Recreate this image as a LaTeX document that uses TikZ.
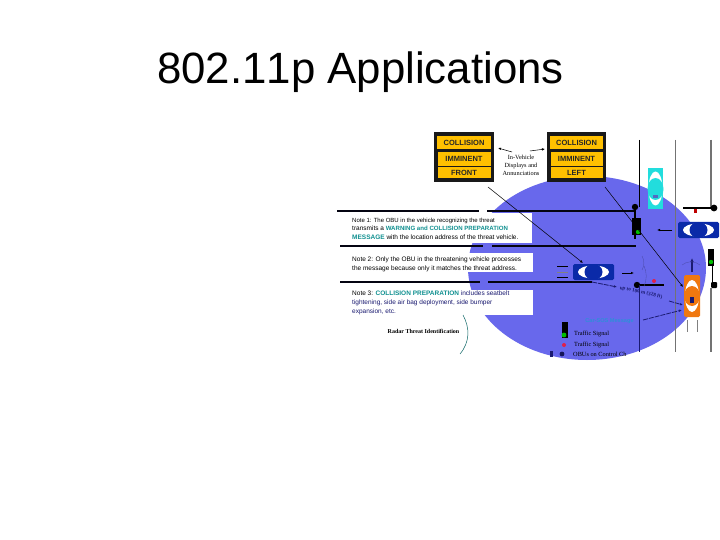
\documentclass[tikz,border=0pt]{standalone}
\usepackage{fontspec}
\setmainfont{Liberation Sans}
\newfontfamily\serifa{Liberation Serif}
\newfontfamily\titlefont[Kerning=Off]{Liberation Sans}
\usetikzlibrary{arrows.meta}
\definecolor{disc}{HTML}{6868EC}
\definecolor{amber}{HTML}{FFC000}
\definecolor{tealt}{HTML}{109090}
\definecolor{navyt}{HTML}{1A1A70}
\definecolor{carblue}{HTML}{0A2AA8}
\definecolor{carcyan}{HTML}{22DDDD}
\definecolor{carorange}{HTML}{F07810}
\definecolor{sosblue}{HTML}{2E8FD8}
\definecolor{dotred}{HTML}{E0204A}
\tikzset{
 rulea/.style={line width=1.6pt,black!85!navyt},
 road/.style={line width=1.6pt,black},
 thin road/.style={line width=.9pt,black},
 grey road/.style={line width=1.1pt,black!55},
 lead/.style={line width=.5pt,black,-{Latex[length=3pt,width=2.5pt]}},
 dashlead/.style={line width=.8pt,navyt,dash pattern=on 5pt off 1pt,-{Latex[length=3pt,width=2.5pt]}},
 notetext/.style={anchor=north west,inner sep=0pt,align=left,font=\fontsize{6.5}{8.7}\selectfont},
 signtext/.style={font=\bfseries\fontsize{7.5}{8}\selectfont,inner sep=0pt,text=black!85},
 smalls/.style={font=\serifa\fontsize{6.3}{8}\selectfont,inner sep=0pt,align=center},
}
\newcommand{\signbox}[5]{%
 \fill[black!90] (#1,132) rectangle ++(#2,50);
 \fill[amber] (#1+3,136) rectangle ++(#2-6,13);
 \fill[amber] (#1+3.5,152) rectangle ++(#2-7,14);
 \fill[amber] (#1+3.5,167) rectangle ++(#2-7,11);
 \node[signtext] at (#1+#2/2,143) {#3};
 \node[signtext] at (#1+#2/2,159) {#4};
 \node[signtext] at (#1+#2/2,172.5) {#5};
}
\begin{document}
\begin{tikzpicture}[x=1pt,y=-1pt]
\useasboundingbox (0,0) rectangle (720,540);
\fill[white] (0,0) rectangle (720,540);
\node[anchor=base west,inner sep=0pt,font=\titlefont\fontsize{43.8}{50}\selectfont] (title) at (157,83.5) {802.11p Applications};
% disc
\fill[disc] (587,268) ellipse [x radius=119,y radius=92];
% note panels
\fill[white] (352,213) rectangle (532,243);
\fill[white] (352,253) rectangle (533,272);
\fill[white] (352,290) rectangle (533,315);
\fill[white] (340,316) rectangle (470,360);
% signs
\signbox{434}{60}{COLLISION}{IMMINENT}{FRONT}
\signbox{547}{59}{COLLISION}{IMMINENT}{LEFT}
\node[smalls] (invehicle) at (521,165) {In-Vehicle\\Displays and\\Annunciations};
\coordinate (la) at (512,152);
\coordinate (ra) at (530,151);
\draw[lead] (la) -- (498,148);
\draw[lead] (ra) -- (545,149);
% note rules
\draw[rulea] (337,211) -- (479,211);
\draw[rulea] (487,211) -- (636,211);
\draw[rulea] (340,246) -- (483,246);
\draw[rulea] (492,246) -- (636,246);
\draw[rulea] (340,282) -- (480,282);
\draw[rulea] (488,282) -- (592,282);
% roads
\draw[thin road] (639,140) -- (639,207);
\draw[grey road] (675.5,140) -- (675.5,352);
\draw[grey road] (711,140) -- (711,207);
\draw[road] (683,208) -- (714,208);
\fill[black] (714,208) circle (3.4);
\fill[red!75!black] (694,209) rectangle (697,213);
\fill[black] (635,207) circle (3.2);
\draw[road] (635,207) -- (635,239);
\fill[black] (632,218) rectangle (641,235);
\fill[green!75!black] (638,232) circle (2.2);
\fill[black] (637,285) circle (3.2);
\draw[road] (637,285) -- (664,285);
\fill[dotred] (654,281) circle (2);
\draw[thin road,navyt] (639,285) -- (639,352);
\draw[grey road] (711,288) -- (711,352);
\fill[black,rounded corners=1pt] (711,282) rectangle (717,288);
\draw[thin road] (712,265) -- (712,283);
\fill[black] (708,249) rectangle (714,266);
\fill[green!75!black] (711,262) circle (2.2);
% cyan car
\fill[carcyan] (648,168) rectangle (663,209);
\fill[white] (655.5,188.5) ellipse [x radius=7,y radius=17];
\fill[carcyan] (655.5,189) ellipse [x radius=8,y radius=11];
\fill[carblue!70] (653,195) rectangle (658,198);
% right blue car
\fill[carblue,rounded corners=1.5pt] (678,222) rectangle (719,238);
\fill[white] (698.5,230) ellipse [x radius=15.5,y radius=6.5];
\fill[carblue] (698.5,230) ellipse [x radius=9,y radius=8];
\draw[line width=.6pt,-{Latex[length=3pt,width=2.5pt]}] (672,230) -- (657,230);
% middle blue car
\fill[carblue,rounded corners=1.5pt] (573,264) rectangle (614,280);
\fill[white] (593.5,272) ellipse [x radius=15.5,y radius=6.5];
\fill[carblue] (593.5,272) ellipse [x radius=9,y radius=8];
\draw[line width=.5pt,black] (557,266) -- (568,266) (557,277) -- (568,277);
\draw[line width=.5pt,black!50] (557,272) -- (568,272);
\draw[line width=.6pt,-{Latex[length=3pt,width=2.5pt]}] (622,273) -- (634,273);
% orange car
\fill[carorange,rounded corners=1.5pt] (684,275) rectangle (700,317);
\fill[white] (692,296) ellipse [x radius=7,y radius=16];
\fill[carorange] (692,296) ellipse [x radius=8,y radius=10];
\fill[navyt] (689.5,297) rectangle (694,303);
\draw[line width=.6pt,black!50] (687.5,320) -- (687.5,332) (697,320) -- (697,332);
\draw[line width=1.4pt,navyt,-{Latex[length=4pt,width=3.5pt]}] (692,272) -- (692,258);
% wave arcs
\draw[line width=.3pt,disc!70!black] (642,256) arc (-30:30:14) ;
\draw[line width=.3pt,disc!70!black] (644,266) arc (-25:25:24) ;
\draw[line width=.3pt,disc!70!black] (682,265) arc (-130:-50:14) ;
% leaders
\draw[lead] (488,187) -- (583,263);
\draw[lead] (605,187) -- (683,287);
\draw[dashlead] (592,282) -- (617,287);
\draw[dashlead] (669,301) -- (683,305);
\node[rotate=-12.6,inner sep=0pt,font=\serifa\bfseries\fontsize{5.2}{6}\selectfont,text=navyt] (range) at (641,292.5) {up to 100 m (328 ft)};
% car message
\node[inner sep=0pt,font=\bfseries\fontsize{5.6}{6}\selectfont,text=sosblue] (carmsg) at (609.5,321) {Car-SOS Message};
\draw[dashlead] (643,320) -- (682,310);
% legend
\fill[black] (562,322) rectangle (568,338);
\fill[green!75!black] (564,335) circle (2.4);
\node[smalls,anchor=west] (lg1) at (574,334) {Traffic Signal};
\fill[dotred] (564,345) circle (2);
\node[smalls,anchor=west] (lg2) at (574,345) {Traffic Signal};
\fill[navyt] (550,351) rectangle (553,357);
\fill[navyt!80!black] (562,354) circle (2.4);
\node[smalls,anchor=west] (lg3) at (573,354.5) {OBUs on Control Ch};
% notes
\node[notetext] (n1) at (352,217.5) {{\fontsize{6.0}{8.7}\selectfont Note 1: The OBU in the vehicle recognizing the threat}\\transmits a {\color{tealt}\fontsize{6.1}{8.7}\selectfont\bfseries WARNING and COLLISION PREPARATION}\\{\color{tealt}\bfseries MESSAGE} with the location address of the threat vehicle.};
\node[notetext] (n2) at (352,256.5) {Note 2: Only the OBU in the threatening vehicle processes\\the message because only it matches the threat address.};
\node[notetext] (n3) at (352,291) {Note 3: {\color{tealt}\bfseries COLLISION PREPARATION} {\color{navyt}includes seatbelt}\\{\color{navyt}tightening, side air bag deployment, side bumper}\\{\color{navyt}expansion, etc.}};
\node[inner sep=0pt,font=\serifa\bfseries\fontsize{6}{7}\selectfont] (radar) at (423.5,331) {Radar Threat Identification};
\draw[line width=.5pt,tealt!70!black] (463,315) .. controls (470,328) and (470,342) .. (460,354);
\end{tikzpicture}
\end{document}
